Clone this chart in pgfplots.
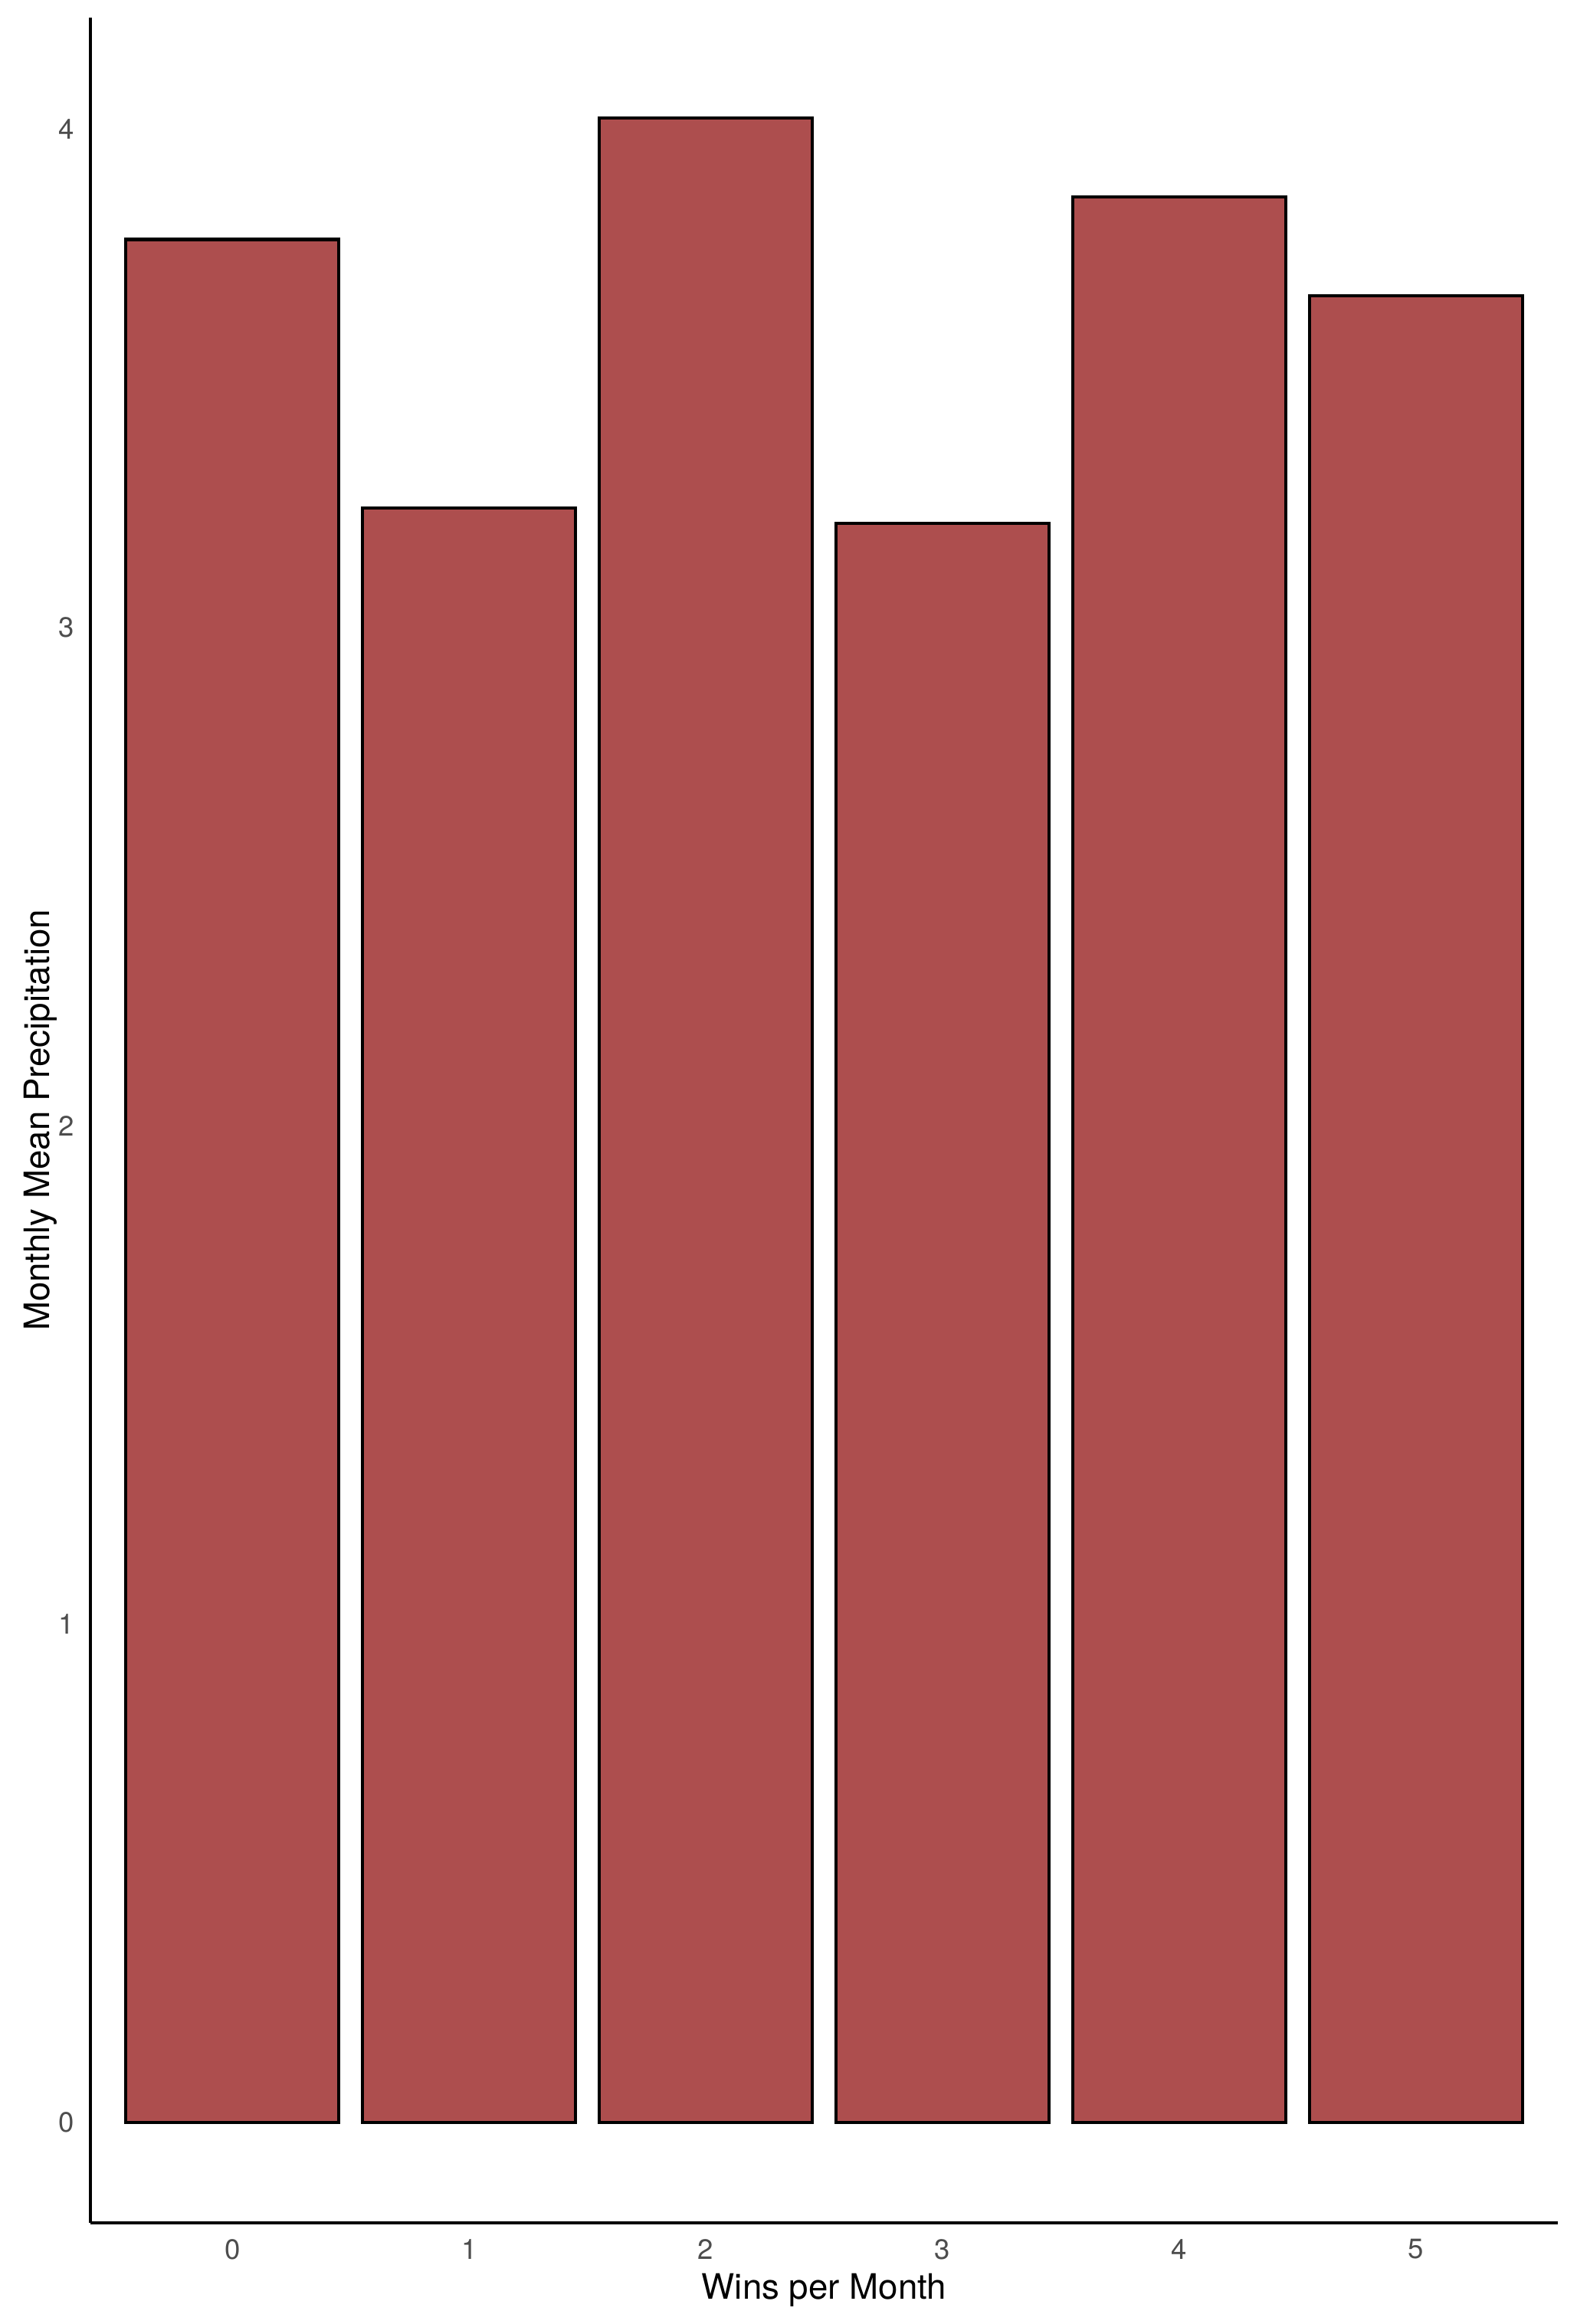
\documentclass[border=0pt]{standalone}
\usepackage{fontspec}
\setmainfont{TeX Gyre Heros}
\usepackage{pgfplots}
\pgfplotsset{compat=1.18}
\definecolor{barfill}{RGB}{173,78,78}
\definecolor{ticktext}{RGB}{77,77,77}
\begin{document}
\begin{tikzpicture}
\begin{axis}[
  scale only axis,
  width=461.32pt, height=693.3pt,
  xmin=-0.6, xmax=5.6,
  ymin=-0.2012, ymax=4.2242,
  axis lines=left,
  axis line style={-, line width=1pt, black},
  major tick length=0pt,
  xtick={0,1,2,3,4,5},
  ytick={0,1,2,3,4},
  /pgf/number format/assume math mode=true,
  tick label style={font=\fontsize{8.8}{10}\selectfont, text=ticktext, inner sep=0pt},
  xticklabel style={anchor=north, yshift=-5pt},
  yticklabel style={anchor=east, xshift=-5pt},
  xlabel={Wins per Month},
  ylabel={Monthly Mean Precipitation},
  label style={font=\fontsize{11}{13}\selectfont, inner sep=0pt},
  xlabel style={at={(axis description cs:0.5,-0.03447)}, anchor=base},
  ylabel style={at={(axis description cs:-0.02775,0.5)}, anchor=base},
  ybar, bar width=0.9, bar shift=0pt,
  clip=false,
]
\addplot[fill=barfill, draw=black, line width=1pt] coordinates {
  (0,3.779) (1,3.240) (2,4.023) (3,3.210) (4,3.864) (5,3.666)
};
\end{axis}
\pgfresetboundingbox
\path (-28.43pt,-31.80pt) rectangle (467.34pt,698.85pt);
\end{tikzpicture}
\end{document}
